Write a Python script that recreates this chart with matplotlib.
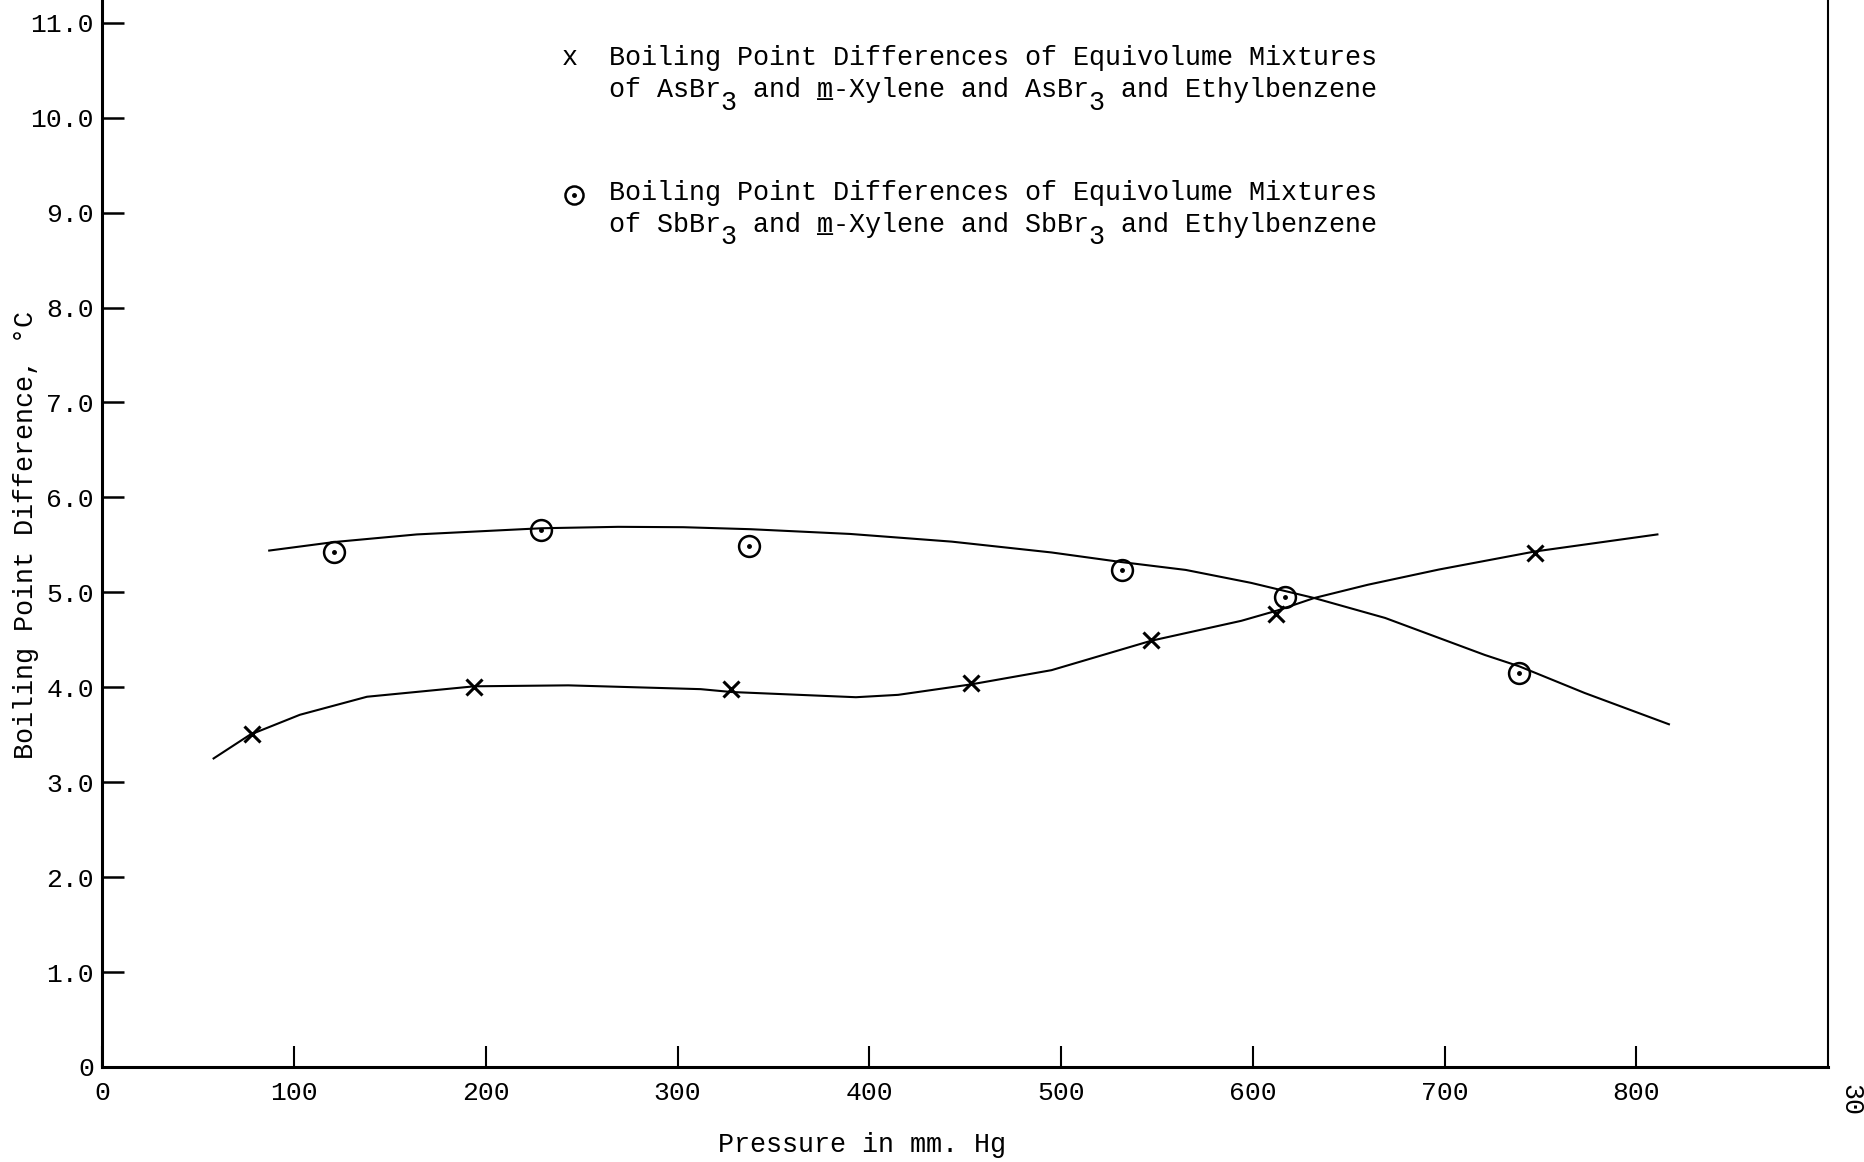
import matplotlib.pyplot as plt
from matplotlib.transforms import offset_copy

plt.rcParams['font.family'] = ['Liberation Mono', 'DejaVu Sans Mono']

# measured points, AsBr3 (x marks)
p_as = [78, 194, 328, 453, 547, 612, 747]
d_as = [3.51, 4.00, 3.98, 4.05, 4.50, 4.77, 5.41]

# measured points, SbBr3 (circles)
p_sb = [121, 229, 337, 532, 617, 739]
d_sb = [5.43, 5.66, 5.49, 5.24, 4.95, 4.15]

# hand drawn curves
curve_as_x = [58, 77, 103, 138, 194, 243, 312, 328, 393, 415, 453, 495, 547, 594, 613, 632, 660, 697, 747, 811]
curve_as_y = [3.25, 3.50, 3.71, 3.90, 4.01, 4.02, 3.98, 3.95, 3.895, 3.92, 4.03, 4.18, 4.49, 4.70, 4.81, 4.94, 5.08, 5.24, 5.43, 5.61]
curve_sb_x = [87, 121, 164, 229, 269, 303, 338, 390, 443, 495, 531, 565, 599, 632, 669, 721, 739, 773, 817]
curve_sb_y = [5.44, 5.53, 5.61, 5.675, 5.69, 5.686, 5.665, 5.615, 5.534, 5.42, 5.32, 5.236, 5.10, 4.94, 4.73, 4.34, 4.22, 3.94, 3.61]

yticks = [0, 1, 2, 3, 4, 5, 6, 7, 8, 9, 10, 11]
ylabels = ['0', '1.0', '2.0', '3.0', '4.0', '5.0', '6.0', '7.0', '8.0', '9.0', '10.0', '11.0']
xticks = [0, 100, 200, 300, 400, 500, 600, 700, 800]

fig = plt.figure(figsize=(18.65, 11.62), dpi=100)
ax = fig.add_axes([0.0549, 0.0818, 0.9253, 0.9182])

ax.plot(curve_as_x, curve_as_y, color='black', lw=1.5)
ax.plot(curve_sb_x, curve_sb_y, color='black', lw=1.5)
ax.plot(p_as, d_as, ls='none', marker='x', ms=11, mew=2.2, color='black')
ax.plot(p_sb, d_sb, ls='none', marker='o', ms=15, mew=1.8, mfc='none', mec='black')
ax.plot(p_sb, d_sb, ls='none', marker='o', ms=2.5, color='black')

ax.set_xlim(0, 900)
ax.set_ylim(0, 11.24)
ax.set_xticks(xticks)
ax.set_xticklabels([str(v) for v in xticks])
ax.set_yticks(yticks)
ax.set_yticklabels(ylabels)
ax.tick_params(axis='x', direction='in', length=15, width=1.5, pad=10, labelsize=19)
ax.tick_params(axis='y', direction='in', length=16, width=1.8, pad=6, labelsize=19)
ax.spines['top'].set_visible(False)
ax.spines['left'].set_linewidth(2.2)
ax.spines['bottom'].set_linewidth(2.2)
ax.spines['right'].set_linewidth(1.5)

# legend, typed by hand (monospace, so overlays line up by character)
fs = 19.3
sub = offset_copy(ax.transData, fig=fig, x=0, y=-9, units='points')
ax.text(244, 10.63, 'x', fontsize=fs, ha='center', va='center')
ax.text(264, 10.63, 'Boiling Point Differences of Equivolume Mixtures', fontsize=fs, va='center')
ax.text(264, 10.29, 'of AsBr  and m-Xylene and AsBr  and Ethylbenzene', fontsize=fs, va='center')
ax.text(264, 10.29, '             _', fontsize=fs, va='center')
ax.text(264, 10.29, '       3                      3', fontsize=fs, va='center', transform=sub)

ax.plot([246], [9.19], ls='none', marker='o', ms=13, mew=1.8, mfc='none', mec='black')
ax.plot([246], [9.19], ls='none', marker='o', ms=2.5, color='black')
ax.text(264, 9.21, 'Boiling Point Differences of Equivolume Mixtures', fontsize=fs, va='center')
ax.text(264, 8.87, 'of SbBr  and m-Xylene and SbBr  and Ethylbenzene', fontsize=fs, va='center')
ax.text(264, 8.87, '             _', fontsize=fs, va='center')
ax.text(264, 8.87, '       3                      3', fontsize=fs, va='center', transform=sub)

fig.text(0.014, 0.54, 'Boiling Point Difference, °C', rotation=90, fontsize=fs, ha='center', va='center')
fig.text(0.462, 0.015, 'Pressure in mm. Hg', fontsize=fs, ha='center', va='center')
fig.text(0.992, 0.053, '30', rotation=-90, fontsize=fs, ha='center', va='center')

fig.savefig('out.png', dpi=100)
